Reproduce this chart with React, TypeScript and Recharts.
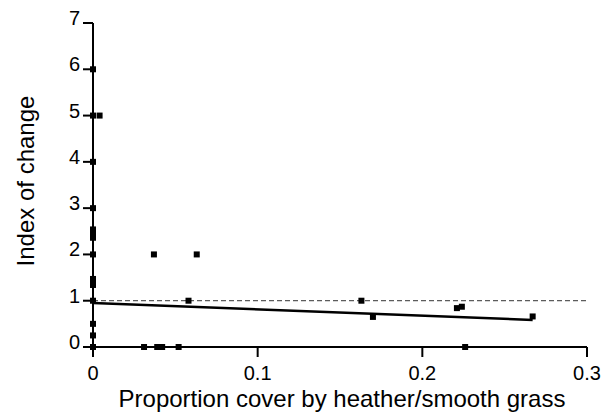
import React from "react";
import { ScatterChart, Scatter, XAxis, YAxis, ReferenceLine } from "recharts";

const xValues = [0, 0, 0, 0, 0, 0, 0, 0, 0, 0, 0, 0, 0, 0, 0, 0.004, 0.037, 0.063, 0.058, 0.031, 0.039, 0.042, 0.052, 0.163, 0.17, 0.221, 0.224, 0.226, 0.267];
const yValues = [6, 5, 4, 3, 2.54, 2.45, 2.36, 2, 1.47, 1.4, 1.34, 1, 0.5, 0.25, 0, 5, 2, 2, 1, 0, 0, 0, 0, 1, 0.65, 0.84, 0.87, 0, 0.66];
const xTicks = [0, 0.1, 0.2, 0.3];
const yTicks = [0, 1, 2, 3, 4, 5, 6, 7];
const fitStart = { x: 0, y: 0.95 };
const fitEnd = { x: 0.267, y: 0.585 };
const baselineValue = 1;

const points = xValues.map((x, i) => ({ x, y: yValues[i] }));

const FONT = "'Liberation Sans', Arial, Helvetica, sans-serif";

const Square = (props: any) => {
  const { cx, cy } = props;
  return <rect x={cx - 3} y={cy - 3} width={6} height={6} fill="#000" />;
};

const YTick = (props: any) => {
  const { x, y, payload } = props;
  return (
    <text x={x} y={y - 5} textAnchor="end" dominantBaseline="central" fontFamily={FONT} fontSize={20} fill="#000">
      {payload.value}
    </text>
  );
};

const XTick = (props: any) => {
  const { x, y, payload } = props;
  return (
    <text x={x} y={y} dy="0.71em" textAnchor="middle" fontFamily={FONT} fontSize={20} fill="#000">
      {payload.value}
    </text>
  );
};

export default function App() {
  return (
    <div style={{ position: "absolute", left: 0, top: 0, width: 614, height: 416, background: "#fff" }}>
      <ScatterChart width={614} height={416} margin={{ top: 23, right: 27, bottom: 0, left: 0 }}>
        <XAxis
          type="number"
          dataKey="x"
          domain={[0, 0.3]}
          ticks={xTicks}
          tickSize={10}
          tickMargin={9}
          height={69}
          axisLine={{ stroke: "#000", strokeWidth: 2 }}
          tickLine={{ stroke: "#000", strokeWidth: 2 }}
          tick={<XTick />}
          label={{
            content: (p: any) => {
              const vb = p.viewBox;
              return (
                <text x={vb.x + vb.width / 2 + 2} y={407} textAnchor="middle" fontFamily={FONT} fontSize={24} fill="#000">
                  Proportion cover by heather/smooth grass
                </text>
              );
            },
          }}
        />
        <YAxis
          type="number"
          dataKey="y"
          domain={[0, 7]}
          ticks={yTicks}
          tickSize={10}
          tickMargin={3}
          width={93}
          axisLine={{ stroke: "#000", strokeWidth: 2 }}
          tickLine={{ stroke: "#000", strokeWidth: 2 }}
          tick={<YTick />}
          label={{
            content: (p: any) => {
              const vb = p.viewBox;
              const cy = vb.y + vb.height / 2 - 4;
              return (
                <text x={34} y={cy} transform={`rotate(-90, 34, ${cy})`} textAnchor="middle" fontFamily={FONT} fontSize={24} fill="#000">
                  Index of change
                </text>
              );
            },
          }}
        />
        <ReferenceLine y={baselineValue} stroke="#333" strokeWidth={1} strokeDasharray="5 3" ifOverflow="visible" />
        <ReferenceLine segment={[fitStart, fitEnd]} stroke="#000" strokeWidth={2.5} ifOverflow="visible" />
        <Scatter data={points} shape={<Square />} isAnimationActive={false} />
      </ScatterChart>
    </div>
  );
}
